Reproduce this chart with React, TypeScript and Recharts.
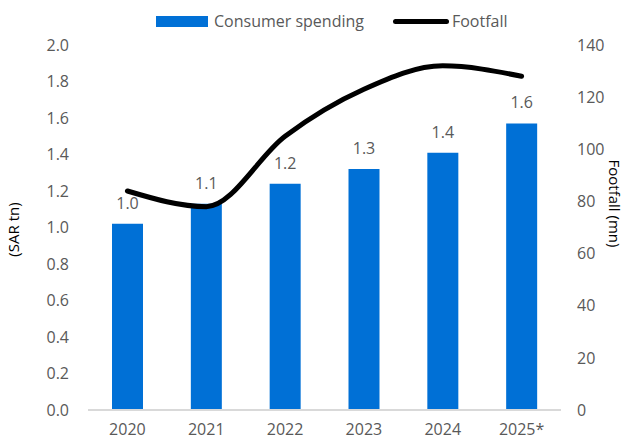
import {
  ComposedChart, Bar, Line, XAxis, YAxis, CartesianGrid, Legend, LabelList,
} from "recharts";

const years = ["2020", "2021", "2022", "2023", "2024", "2025*"];
const spending = [1.02, 1.13, 1.24, 1.32, 1.41, 1.57];
const footfall = [84, 78, 105, 123, 132, 128];
const leftTicks = [0, 0.2, 0.4, 0.6, 0.8, 1.0, 1.2, 1.4, 1.6, 1.8, 2.0];
const rightTicks = [0, 20, 40, 60, 80, 100, 120, 140];

const rows = years.map((year, i) => ({
  year,
  spending: spending[i],
  footfall: footfall[i],
}));

const BLUE = "#0070d6";
const GREY = "#595959";
const FONT = "'Open Sans', sans-serif";

const LegendRow = () => (
  <div
    style={{
      height: 34,
      display: "flex",
      alignItems: "center",
      paddingLeft: 156,
      fontFamily: FONT,
      fontSize: 16,
      color: GREY,
    }}
  >
    <span style={{ width: 52, height: 11, background: BLUE, display: "inline-block" }} />
    <span style={{ marginLeft: 6 }}>Consumer spending</span>
    <span
      style={{
        width: 56,
        height: 5,
        borderRadius: 3,
        background: "#000",
        display: "inline-block",
        marginLeft: 29,
      }}
    />
    <span style={{ marginLeft: 3 }}>Footfall</span>
  </div>
);

export default function App() {
  return (
    <div style={{ position: "absolute", left: 0, top: 0 }}>
      <ComposedChart
        width={626}
        height={441}
        data={rows}
        margin={{ top: 11, right: 0, bottom: 0, left: 0 }}
      >
        <CartesianGrid horizontal={false} vertical={false} />
        <Legend
          verticalAlign="top"
          content={() => <LegendRow />}
          wrapperStyle={{ left: 0, top: 4, width: 626 }}
        />
        <XAxis
          dataKey="year"
          height={31}
          tickLine={false}
          tickSize={0}
          tickMargin={14}
          axisLine={{ stroke: "#d9d9d9", strokeWidth: 2 }}
          tick={{ fill: GREY, fontSize: 16, fontFamily: FONT }}
        />
        <YAxis
          yAxisId="left"
          width={88}
          domain={[0, 2]}
          ticks={leftTicks}
          interval={0}
          tickFormatter={(v: number) => v.toFixed(1)}
          axisLine={false}
          tickLine={false}
          tickSize={0}
          tickMargin={19}
          tick={{ fill: GREY, fontSize: 16, fontFamily: FONT }}
          label={{
            value: "(SAR tn)",
            angle: -90,
            position: "insideLeft",
            offset: 14,
            dy: 2,
            style: { fill: "#000", fontSize: 15, fontFamily: FONT, textAnchor: "middle" },
          }}
        />
        <YAxis
          yAxisId="right"
          orientation="right"
          width={65}
          domain={[0, 140]}
          ticks={rightTicks}
          interval={0}
          axisLine={false}
          tickLine={false}
          tickSize={0}
          tickMargin={16}
          tick={{ fill: GREY, fontSize: 16, fontFamily: FONT }}
          label={{
            value: "Footfall (mn)",
            angle: 90,
            position: "insideRight",
            offset: 12,
            dy: -24,
            style: { fill: "#000", fontSize: 15, fontFamily: FONT, textAnchor: "middle" },
          }}
        />
        <Bar
          yAxisId="left"
          dataKey="spending"
          fill={BLUE}
          barSize={31}
          isAnimationActive={false}
        >
          <LabelList
            dataKey="spending"
            position="top"
            offset={15}
            formatter={(v: number) => v.toFixed(1)}
            style={{ fill: GREY, fontSize: 16, fontFamily: FONT }}
          />
        </Bar>
        {/* footfall on the right axis, smoothed */}
        <Line
          yAxisId="right"
          dataKey="footfall"
          type="monotone"
          stroke="#000"
          strokeWidth={5}
          strokeLinecap="round"
          dot={false}
          activeDot={false}
          isAnimationActive={false}
        />
      </ComposedChart>
    </div>
  );
}
